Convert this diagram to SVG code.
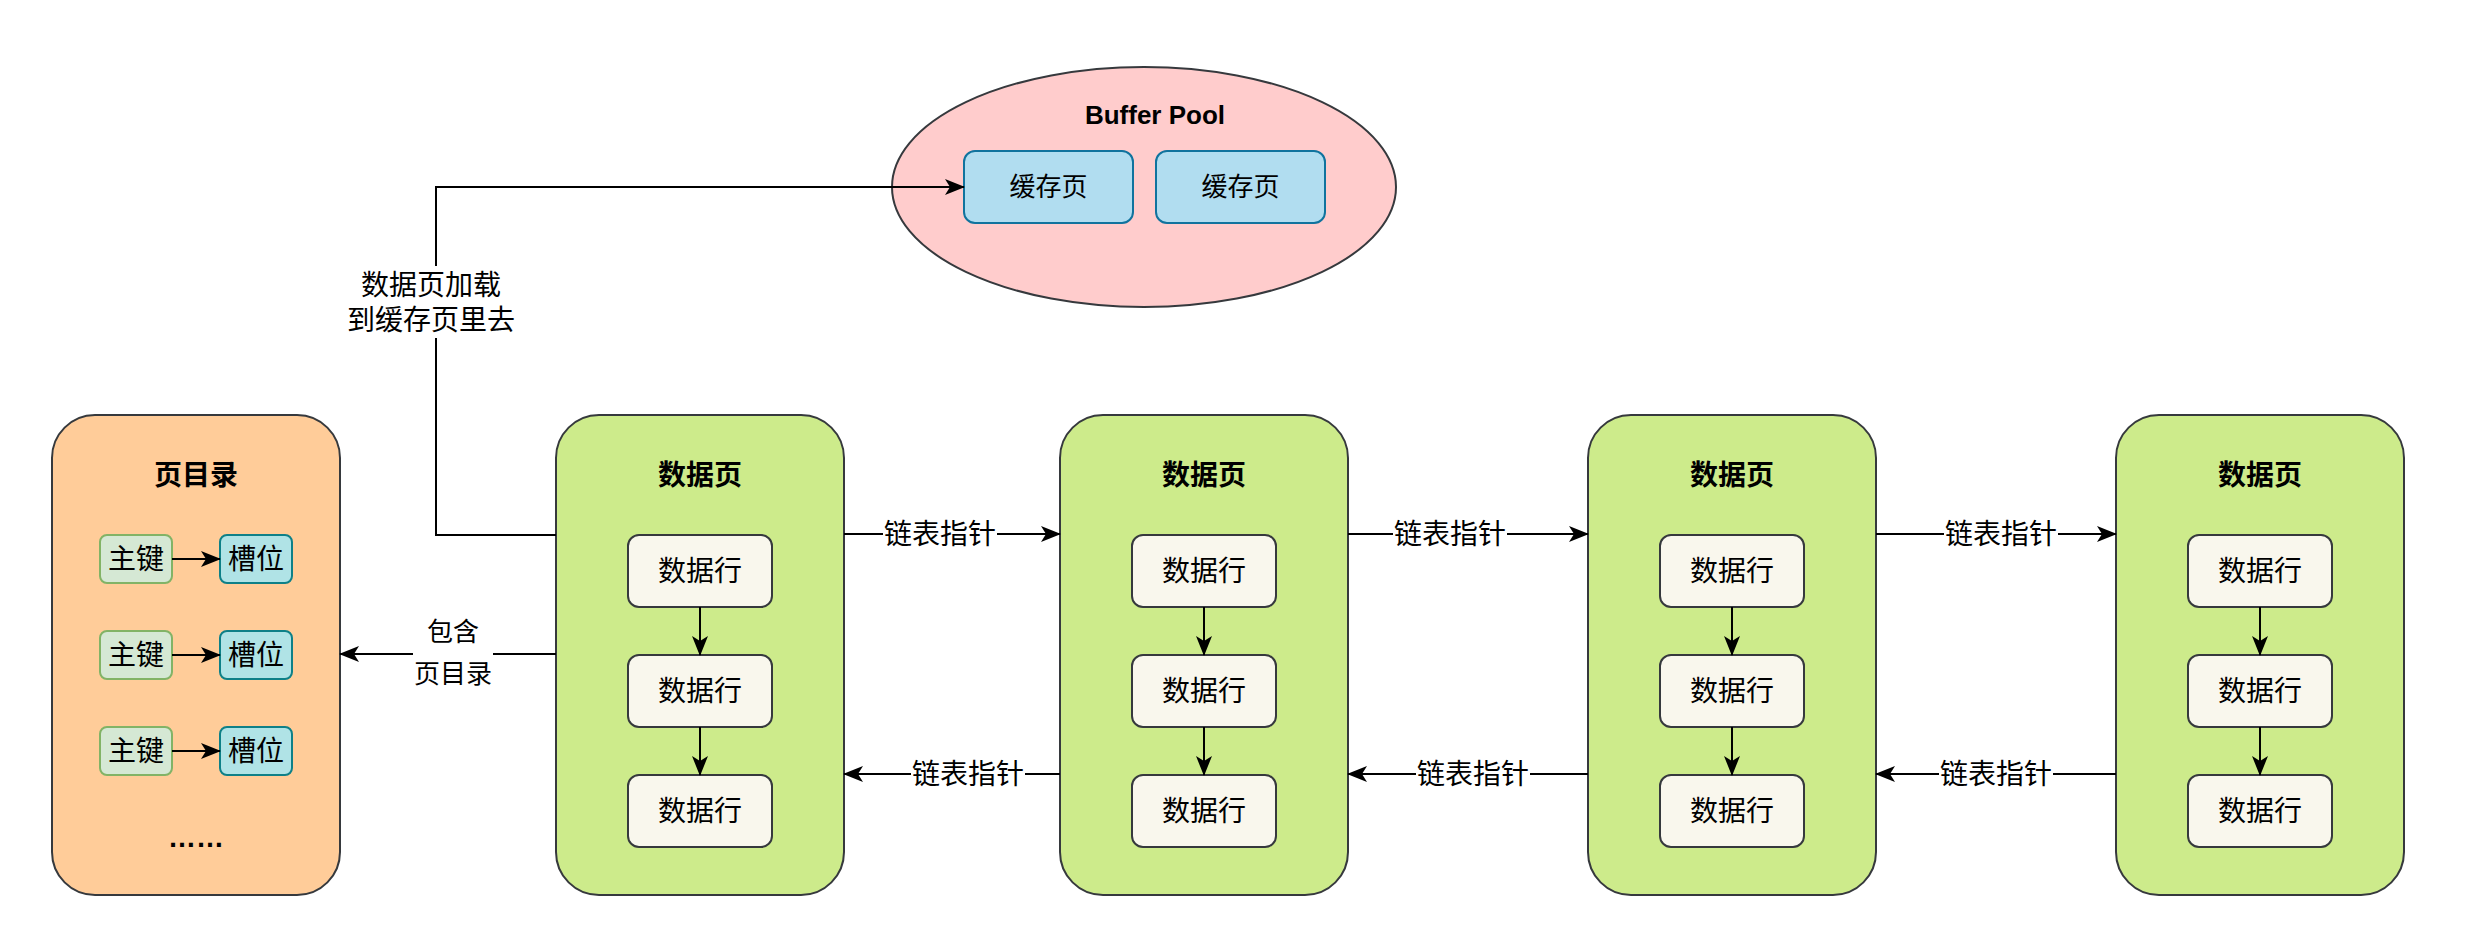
<svg xmlns="http://www.w3.org/2000/svg" width="2476" height="944" viewBox="0 0 2476 944">
<defs>
<marker id="arr" viewBox="0 0 20 16" markerWidth="20" markerHeight="16" refX="19" refY="8" orient="auto" markerUnits="userSpaceOnUse">
<path d="M0,0 L20,8 L0,16 L5,8 Z" fill="#000"/>
</marker>
<style>
text{font-family:"Liberation Sans","Noto Sans CJK SC",sans-serif;fill:#000;text-anchor:middle;dominant-baseline:central}
.t28{font-size:28px}
.t26{font-size:26px}
.b{font-weight:bold}
.page{fill:#cdeb8b;stroke:#36393d;stroke-width:2}
.dir{fill:#ffcc99;stroke:#36393d;stroke-width:2}
.row{fill:#f9f7ed;stroke:#36393d;stroke-width:2}
.key{fill:#d5e8d4;stroke:#82b366;stroke-width:2}
.slot{fill:#b0e3e6;stroke:#0e8088;stroke-width:2}
.cache{fill:#b1ddf0;stroke:#10739e;stroke-width:2}
.pool{fill:#ffcccc;stroke:#36393d;stroke-width:2}
.edge{fill:none;stroke:#000;stroke-width:2;marker-end:url(#arr)}
.lbg{fill:#fff}
</style>
</defs>
<rect width="2476" height="944" fill="#fff"/>

<g id="buffer-pool">
<ellipse class="pool" cx="1144" cy="187" rx="252" ry="120"/>
<text class="t26 b" x="1155" y="115">Buffer Pool</text>
<g id="cache1"><rect class="cache" x="964" y="151" width="169" height="72" rx="11"/><text class="t26" x="1048.5" y="187">缓存页</text></g>
<g id="cache2"><rect class="cache" x="1156" y="151" width="169" height="72" rx="11"/><text class="t26" x="1240.5" y="187">缓存页</text></g>
</g>

<g id="page-directory">
<rect class="dir" x="52" y="415" width="288" height="480" rx="43"/>
<text class="t28 b" x="196" y="475">页目录</text>
<g id="dir-row1"><rect class="key" x="100" y="535" width="72" height="48" rx="7"/><text class="t28" x="136" y="559">主键</text><rect class="slot" x="220" y="535" width="72" height="48" rx="7"/><text class="t28" x="256" y="559">槽位</text></g>
<g id="dir-row2"><rect class="key" x="100" y="631" width="72" height="48" rx="7"/><text class="t28" x="136" y="655">主键</text><rect class="slot" x="220" y="631" width="72" height="48" rx="7"/><text class="t28" x="256" y="655">槽位</text></g>
<g id="dir-row3"><rect class="key" x="100" y="727" width="72" height="48" rx="7"/><text class="t28" x="136" y="751">主键</text><rect class="slot" x="220" y="727" width="72" height="48" rx="7"/><text class="t28" x="256" y="751">槽位</text></g>
<text class="t28 b" x="196" y="847" style="dominant-baseline:alphabetic;font-family:'Liberation Sans',sans-serif">……</text>
</g>

<g id="page1">
<rect class="page" x="556" y="415" width="288" height="480" rx="43"/>
<text class="t28 b" x="700" y="475">数据页</text>
<rect class="row" x="628" y="535" width="144" height="72" rx="11"/><text class="t28" x="700" y="571">数据行</text>
<rect class="row" x="628" y="655" width="144" height="72" rx="11"/><text class="t28" x="700" y="691">数据行</text>
<rect class="row" x="628" y="775" width="144" height="72" rx="11"/><text class="t28" x="700" y="811">数据行</text>
</g>
<g id="page2">
<rect class="page" x="1060" y="415" width="288" height="480" rx="43"/>
<text class="t28 b" x="1204" y="475">数据页</text>
<rect class="row" x="1132" y="535" width="144" height="72" rx="11"/><text class="t28" x="1204" y="571">数据行</text>
<rect class="row" x="1132" y="655" width="144" height="72" rx="11"/><text class="t28" x="1204" y="691">数据行</text>
<rect class="row" x="1132" y="775" width="144" height="72" rx="11"/><text class="t28" x="1204" y="811">数据行</text>
</g>
<g id="page3">
<rect class="page" x="1588" y="415" width="288" height="480" rx="43"/>
<text class="t28 b" x="1732" y="475">数据页</text>
<rect class="row" x="1660" y="535" width="144" height="72" rx="11"/><text class="t28" x="1732" y="571">数据行</text>
<rect class="row" x="1660" y="655" width="144" height="72" rx="11"/><text class="t28" x="1732" y="691">数据行</text>
<rect class="row" x="1660" y="775" width="144" height="72" rx="11"/><text class="t28" x="1732" y="811">数据行</text>
</g>
<g id="page4">
<rect class="page" x="2116" y="415" width="288" height="480" rx="43"/>
<text class="t28 b" x="2260" y="475">数据页</text>
<rect class="row" x="2188" y="535" width="144" height="72" rx="11"/><text class="t28" x="2260" y="571">数据行</text>
<rect class="row" x="2188" y="655" width="144" height="72" rx="11"/><text class="t28" x="2260" y="691">数据行</text>
<rect class="row" x="2188" y="775" width="144" height="72" rx="11"/><text class="t28" x="2260" y="811">数据行</text>
</g>

<g id="connectors">
<path class="edge" d="M172,559 H220"/>
<path class="edge" d="M172,655 H220"/>
<path class="edge" d="M172,751 H220"/>
<path class="edge" d="M700,607 V655"/><path class="edge" d="M700,727 V775"/>
<path class="edge" d="M1204,607 V655"/><path class="edge" d="M1204,727 V775"/>
<path class="edge" d="M1732,607 V655"/><path class="edge" d="M1732,727 V775"/>
<path class="edge" d="M2260,607 V655"/><path class="edge" d="M2260,727 V775"/>

<path class="edge" d="M556,535 H436 V187 H964"/>
<rect class="lbg" x="346" y="266" width="170" height="72"/>
<text class="t28" x="431" y="285">数据页加载</text>
<text class="t28" x="431" y="320">到缓存页里去</text>

<path class="edge" d="M556,654 H340"/>
<rect class="lbg" x="413" y="614" width="80" height="80"/>
<text class="t26" x="453" y="632">包含</text>
<text class="t26" x="453" y="674">页目录</text>

<path class="edge" d="M844,534 H1060"/>
<rect class="lbg" x="883" y="518" width="114" height="32"/>
<text class="t28" x="940" y="534">链表指针</text>
<path class="edge" d="M1060,774 H844"/>
<rect class="lbg" x="911" y="758" width="114" height="32"/>
<text class="t28" x="968" y="774">链表指针</text>

<path class="edge" d="M1348,534 H1588"/>
<rect class="lbg" x="1393" y="518" width="114" height="32"/>
<text class="t28" x="1450" y="534">链表指针</text>
<path class="edge" d="M1588,774 H1348"/>
<rect class="lbg" x="1416" y="758" width="114" height="32"/>
<text class="t28" x="1473" y="774">链表指针</text>

<path class="edge" d="M1876,534 H2116"/>
<rect class="lbg" x="1944" y="518" width="114" height="32"/>
<text class="t28" x="2001" y="534">链表指针</text>
<path class="edge" d="M2116,774 H1876"/>
<rect class="lbg" x="1939" y="758" width="114" height="32"/>
<text class="t28" x="1996" y="774">链表指针</text>
</g>
</svg>
